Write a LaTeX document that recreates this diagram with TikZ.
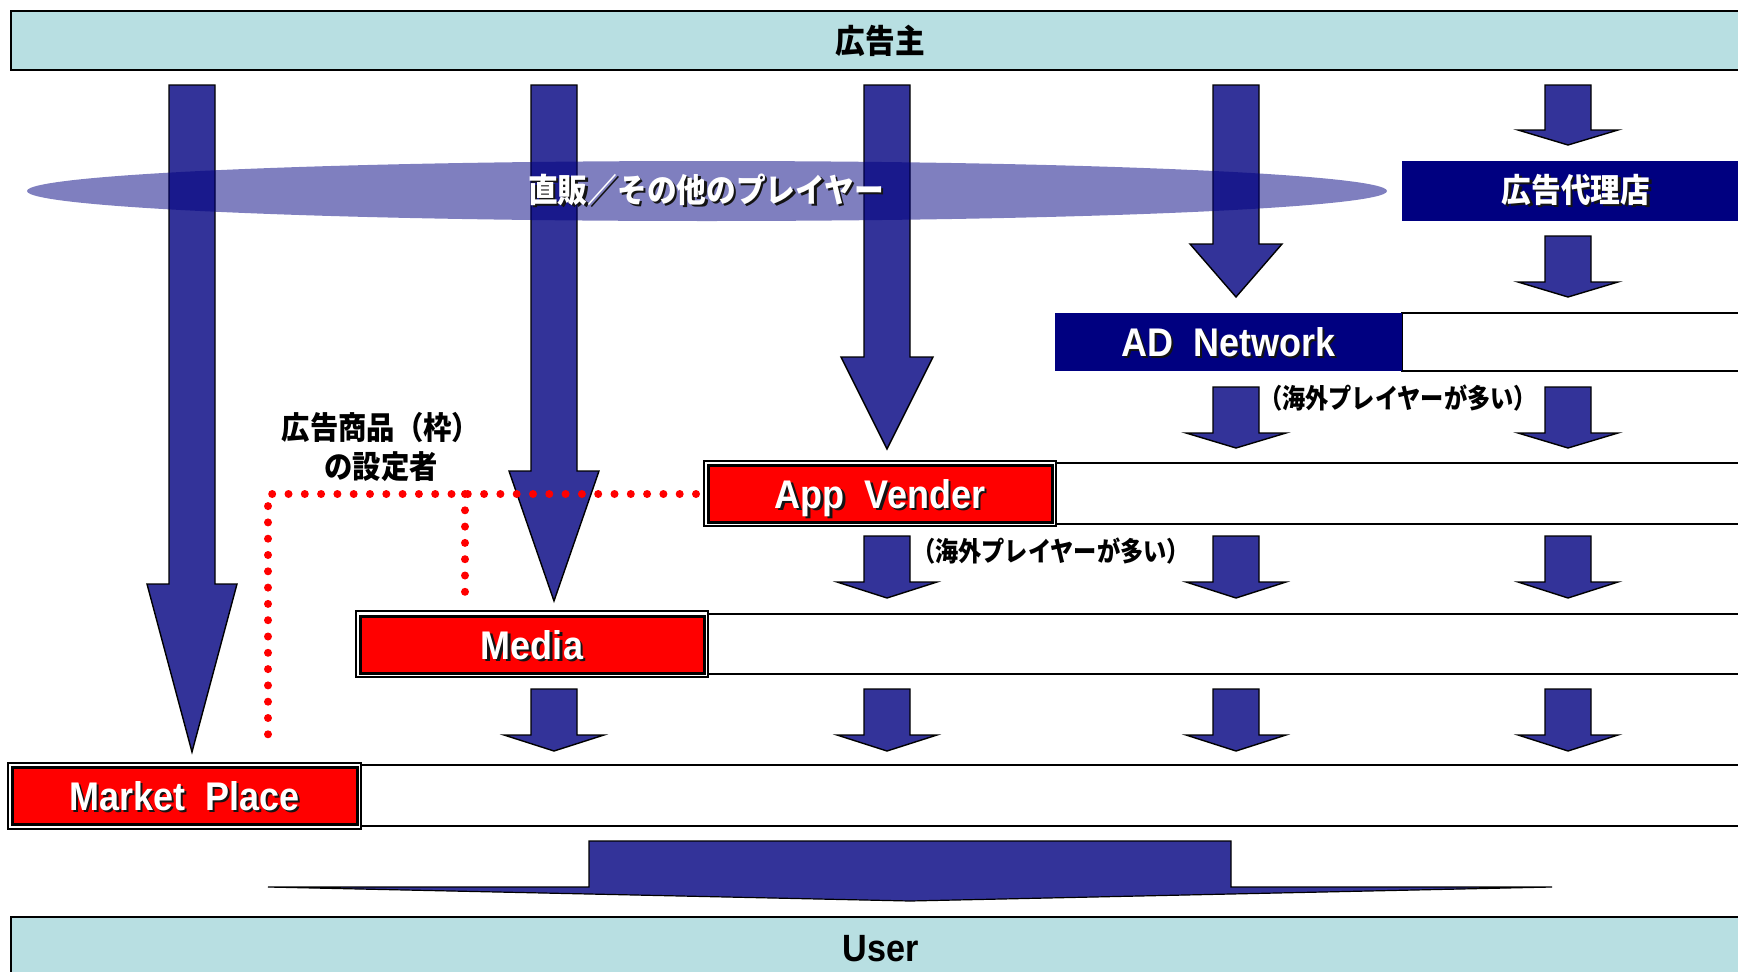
\documentclass[tikz,border=0pt]{standalone}
\usepackage{fontspec}
\setmainfont{Liberation Sans}
\newfontfamily\lat{Liberation Sans}[FakeStretch=0.9]
\newfontfamily\jp{Noto Sans CJK JP}[FakeStretch=0.9]
\newfontfamily\jpn{Noto Sans CJK JP}[FakeStretch=0.86]
\definecolor{bannerblue}{RGB}{184,223,226}
\definecolor{arrblue}{RGB}{51,51,153}
\definecolor{navy}{RGB}{0,0,128}
\definecolor{shadowc}{RGB}{20,20,20}
\newcommand{\shtext}[1]{\rlap{\hspace{2.5pt}\raisebox{-2.5pt}{\textcolor{shadowc}{#1}}}#1}
\newcommand{\blockarrow}[6]{%
  \filldraw[blockarr] ({#1-#5},#2) -- ({#1+#5},#2) -- ({#1+#5},#3) -- ({#1+#6},#3)
    -- (#1,#4) -- ({#1-#6},#3) -- ({#1-#5},#3) -- cycle;}
\tikzset{
  blockarr/.style={fill=arrblue, draw=black, line width=1.4pt, line join=miter},
  banner/.style={draw=black, line width=2pt, fill=bannerblue, inner sep=0pt, text=black,
    font=\jp\bfseries\fontsize{33}{36}\selectfont},
  rowbox/.style={draw=black, line width=2pt, fill=white, inner sep=0pt},
  navybox/.style={fill=navy, text=white, inner sep=0pt},
  redbox/.style={fill=red, draw=black, line width=3pt, text=white, inner sep=0pt,
    font=\lat\bfseries\fontsize{40}{44}\selectfont, minimum width=344pt, minimum height=57pt,
    text height=28.6pt, text depth=0pt},
  redframe/.style={draw=black, line width=1.2pt, fill=white},
  latw/.style={font=\lat\bfseries\fontsize{40}{44}\selectfont, text=white,
    text height=28.6pt, text depth=0pt},
  jpw/.style={font=\jp\bfseries\fontsize{33}{36}\selectfont, text=white},
  jpk/.style={font=\jp\bfseries\fontsize{31.5}{39}\selectfont, text=black},
  note/.style={font=\jpn\bfseries\fontsize{27}{30}\selectfont, text=black, inner sep=0pt},
  reddots/.style={red, line width=8pt, line cap=round, dash pattern=on 0pt off 16.3pt}
}
\begin{document}
\begin{tikzpicture}[x=1pt,y=-1pt]
\useasboundingbox (0,0) rectangle (1738,972);
% banners
\node[banner, minimum width=1739pt, minimum height=59pt] (adv) at (880.5,40.5) {広告主};
\node[banner, minimum width=1739pt, minimum height=68pt, font=\lat\bfseries\fontsize{38}{40}\selectfont,
  text height=27pt, text depth=6pt] (user) at (880.5,951) {User};
% white row boxes
\node[rowbox, minimum width=348pt, minimum height=58pt] (adrow) at (1576,342) {};
\node[rowbox, minimum width=694pt, minimum height=61pt] (approw) at (1403,493.5) {};
\node[rowbox, minimum width=1042pt, minimum height=60pt] (mediarow) at (1229,644) {};
\node[rowbox, minimum width=1389pt, minimum height=61pt] (mktrow) at (1055.5,795.5) {};
% big arrows
\blockarrow{192}{85}{584}{752}{23}{45}
\blockarrow{554}{85}{471}{601}{23}{45}
\blockarrow{887}{85}{357}{449}{23}{46}
\blockarrow{1236}{85}{244}{297}{23}{46}
% small arrows
\blockarrow{1568}{85}{130}{145}{23}{50}
\blockarrow{1568}{236}{282}{297}{23}{50}
\blockarrow{1236}{387}{433}{448}{23}{50}
\blockarrow{1568}{387}{433}{448}{23}{50}
\blockarrow{887}{536}{582}{598}{23}{50}
\blockarrow{1236}{536}{582}{598}{23}{50}
\blockarrow{1568}{536}{582}{598}{23}{50}
\blockarrow{554}{689}{735}{751}{23}{50}
\blockarrow{887}{689}{735}{751}{23}{50}
\blockarrow{1236}{689}{735}{751}{23}{50}
\blockarrow{1568}{689}{735}{751}{23}{50}
% ellipse
\fill[navy, opacity=0.5] (707,191) ellipse [x radius=680, y radius=30];
\node[jpw] (direct) at (706,191) {\shtext{直販／その他のプレイヤー}};
% navy boxes
\node[navybox, minimum width=348pt, minimum height=60pt, jpw] (agency) at (1576,191) {\shtext{広告代理店}};
\node[navybox, minimum width=347pt, minimum height=58pt, latw] (adnet) at (1228.5,342) {\shtext{AD\ \ Network}};
% red boxes
\draw[redframe] (704,461) rectangle (1056,526);
\node[redbox] (app) at (880,494) {\shtext{App\ \ Vender}};
\draw[redframe] (356,611) rectangle (708,677);
\node[redbox] (media) at (532,645) {\shtext{Media}};
\draw[redframe] (8,763) rectangle (361,829);
\node[redbox, minimum width=345pt] (mkt) at (184.5,796) {\shtext{Market\ \ Place}};
% notes
\node[note] (note1) at (1398,398) {（海外プレイヤーが多い）};
\node[note] (note2) at (1051,551) {（海外プレイヤーが多い）};
\node[jpk, align=center] (setter) at (381,447) {広告商品（枠）\\の設定者};
% dotted lines
\coordinate (d0) at (696,494);
\coordinate (d1) at (268,494);
\coordinate (d2) at (268,739);
\coordinate (d3) at (465,494);
\coordinate (d4) at (465,593);
\draw[reddots] (d0) -- (d1) -- (d2);
\draw[reddots] (d3) -- (d4);
% bottom wide arrow
\filldraw[blockarr, line width=1.2pt] (589,841) -- (1231,841) -- (1231,887) -- (1552,887)
  -- (910,901) -- (268,887) -- (589,887) -- cycle;
\end{tikzpicture}
\end{document}
